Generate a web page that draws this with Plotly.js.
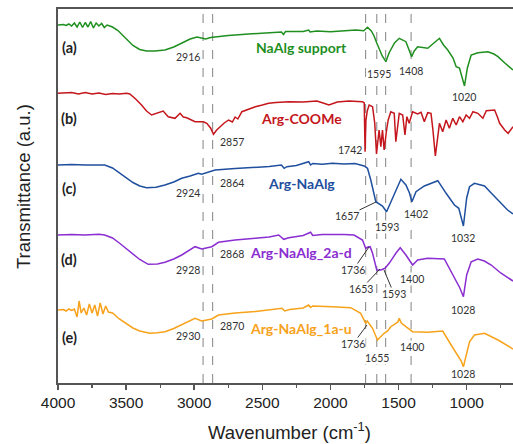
<!DOCTYPE html>
<html>
<head>
<meta charset="utf-8">
<script src="https://cdn.plot.ly/plotly-3.0.1.min.js"></script>
<style>html,body{margin:0;padding:0;background:#fff;}#chart{width:513px;height:444px;}</style>
</head>
<body>
<div id="chart"></div>
<script>
// ---- data (wavenumber in cm-1, transmittance in arbitrary offset units) ----
const wnA = [4000,3960,3940,3920,3900,3880,3860,3840,3820,3800,3780,3760,3740,3720,3700,3680,3660,3640,3620,3600,3560,3530,3500,3450,3400,3350,3290,3215,3150,3080,3030,2980,2945,2916,2880,2847,2750,2600,2450,2360,2345,2330,2200,2160,2150,2100,2000,1900,1814,1755,1728,1700,1680,1660,1620,1593,1570,1530,1495,1446,1420,1404,1385,1360,1286,1240,1200,1170,1139,1100,1077,1053,1035,1016,995,967,918,880,844,800,770,720,660];
const tA = [358,358.5,357.5,359,357,360,356,361,355.5,360.5,356,361.5,355,360,357,359.5,355.5,358,357,356,352.5,348.5,344,337.5,333.5,332,332,333,336,341,344,346,345,344,345.5,346,347.5,349,350,351,348.5,351.5,351.5,353,351,352,351.3,352,353,352.3,355.7,352,347,340,327,321.3,330,340,344.7,341.3,333,326.3,332,336.3,334.7,340,344.7,338,333,325,316.3,315,305,297,315,328,330.3,331,331.3,329,326.3,320,313];

const wnB = [4000,3900,3850,3800,3750,3700,3650,3600,3550,3497,3473,3430,3387,3350,3313,3270,3228,3191,3141,3104,3080,3055,3020,2994,2933,2908,2880,2859,2835,2810,2780,2748,2720,2700,2680,2650,2600,2552,2500,2454,2400,2306,2200,2100,2060,2011,1950,1864,1800,1765,1752,1746,1740,1730,1716,1691,1675,1662,1643,1630,1618,1606,1588,1576,1557,1532,1520,1495,1470,1453,1439,1422,1397,1360,1335,1311,1286,1262,1249,1230,1212,1200,1176,1151,1127,1102,1077,1053,1028,1004,979,954,918,881,856,795,775,758,721,696,660];
const tB = [289.7,290.5,289,290.5,289,290,288.5,289.5,289,289.7,289,284,278,272,268,270,272,266.3,264.7,269.7,266,265.3,263,261.3,261.3,259.7,255,248.7,253,256.3,260,263,261,266,264,271.3,274,276.3,278,279.7,280.5,281.3,281,282,280.3,278,281,282,281.5,281.3,280,231.3,262,272,278,276.3,260,229,253,236.3,253,233,253,263,271.3,269.7,241.3,269.7,268,248,266.3,259.7,271.3,269,270.7,261.3,270.3,269.7,254.7,227,246.3,259.7,251.3,263,254.7,264.7,258,266.3,261.3,268,264.7,271.3,269.7,264.7,272.3,273,266.3,259.7,253,249.7,256.3];

const wnC = [4000,3900,3800,3700,3657,3600,3550,3500,3450,3400,3350,3280,3215,3150,3092,3030,2970,2945,2900,2847,2700,2552,2450,2360,2340,2320,2250,2160,2146,2130,2060,1986,1900,1820,1753,1728,1704,1667,1643,1618,1588,1560,1532,1483,1446,1420,1402,1372,1311,1212,1151,1090,1058,1040,1024,1000,979,943,900,869,820,770,700,660];
const tC = [218,218.5,218,218.5,218,215,210,205,200.5,197,195.3,195.8,198,201,204.7,207,209.7,208.7,211,213,214.5,215.3,216.5,218,214.7,216.3,217.5,221.3,218,219.5,218.7,219.7,219,219.5,217,214.7,203,181.3,179,177,171.3,180,189.7,203.7,198,190,181.3,191.3,197,202.3,189.7,178,174.7,165,157,185,196.3,199.7,198,197,190,183,173,169];

const wnD = [4000,3900,3800,3700,3657,3600,3550,3500,3450,3400,3338,3270,3215,3150,3092,2994,2945,2871,2822,2700,2552,2450,2380,2343,2306,2200,2146,2130,2060,1986,1900,1827,1765,1741,1725,1709,1691,1660,1630,1600,1569,1520,1488,1446,1420,1397,1360,1286,1164,1127,1077,1050,1024,1000,967,918,870,820,750,660];
const tD = [148,148.5,148,148.8,148,145,140,134.5,129,123.5,118.7,119,120.7,124,128,136.3,134,136.3,140.7,143,144.7,146,148,143.7,145.3,147.5,150.7,147.5,148.5,148.7,148.5,148,143,134.7,136,136.3,129.7,113,113,114.7,119.7,129.7,135.3,128,122,118,123,124.7,124,114.7,103,95,86.3,108,121.3,124,122,118,110,102];

const wnE = [4000,3960,3940,3920,3900,3880,3860,3845,3830,3810,3790,3770,3750,3730,3710,3690,3670,3650,3630,3600,3550,3500,3450,3400,3326,3270,3215,3150,3092,2994,2945,2871,2822,2700,2550,2454,2355,2336,2300,2200,2160,2146,2130,1986,1851,1778,1741,1730,1716,1691,1655,1630,1606,1580,1557,1520,1505,1495,1480,1446,1420,1397,1286,1176,1114,1065,1040,1024,1000,979,943,869,770,660];
const tE = [73,73.5,72,74,72.5,74,66,82,70,75,68,79,70,78,67,80,69,77,71,70,64,59.5,55,52,49.7,50.2,51.3,54.5,58,64.7,62,64,68,70,71.5,73,74.7,72,73.5,75,78,75.5,77,76.3,75.3,69.7,59.7,62,59.7,54.7,43,47,49.7,52,56.3,59.7,61,64.7,60,56.3,54,51.3,50.7,52,38,28,22,16.3,30,41.3,48,49.7,43,34];

const seriesNames = ["NaAlg support","Arg-COOMe","Arg-NaAlg","Arg-NaAlg_2a-d","Arg-NaAlg_1a-u"];
const seriesTags = ["(a)","(b)","(c)","(d)","(e)"];
const seriesColors = ["#1f8f1f","#c4161c","#1f4f9e","#8a2ed1","#f7a21b"];
const dashX = [2935, 2865, 1742, 1660, 1595, 1408];
const xTicks = [4000,3500,3000,2500,2000,1500,1000];

// ---- layout geometry (pixels) ----
const G = {l:58, t:9, w:455, h:374};
function P(px, py){ return {x:(px-G.l)/G.w, y:(G.t+G.h-py)/G.h}; }
function txt(text, px, py, color, size, family, bg){
  const p = P(px,py);
  return {xref:'paper', yref:'paper', x:p.x, y:p.y, text:text, showarrow:false,
    xanchor:'center', yanchor:'middle', bgcolor: bg||'rgba(0,0,0,0)', borderpad:0,
    font:{color:color, size:size, family:family}};
}
function lead(text, tx, ty, hx, hy){
  const p = P(hx,hy);
  return {xref:'paper', yref:'paper', x:p.x, y:p.y, text:text, showarrow:true,
    ax:tx-hx, ay:ty-hy, axref:'pixel', ayref:'pixel', arrowhead:0, arrowwidth:1,
    arrowcolor:'#333', standoff:0, startstandoff:0,
    bgcolor:'#fff', borderpad:0, font:{color:'#333', size:10.5, family:'Lato, sans-serif'}};
}

const xs = [wnA,wnB,wnC,wnD,wnE];
const ys = [tA,tB,tC,tD,tE];
const traces = xs.map((x,i)=>({
  x:x, y:ys[i], type:'scatter', mode:'lines', name:seriesNames[i],
  line:{color:seriesColors[i], width:1.5, shape:'linear'},
  hoverinfo:'skip', showlegend:false
}));

const shapes = dashX.map(v=>({type:'line', xref:'x', yref:'paper', x0:v, x1:v, y0:0, y1:0.995,
  line:{color:'#8f8f8f', width:1.1, dash:'dash'}, layer:'below'}));

const SER = 'Lato, sans-serif';
const NUM = '#333';
const annotations = [
  // tags
  txt('<b>'+seriesTags[0]+'</b>', 69, 48, '#222', 14.5, SER),
  txt('<b>'+seriesTags[1]+'</b>', 69, 118, '#222', 14.5, SER),
  txt('<b>'+seriesTags[2]+'</b>', 69, 188, '#222', 14.5, SER),
  txt('<b>'+seriesTags[3]+'</b>', 69, 259, '#222', 14.5, SER),
  txt('<b>'+seriesTags[4]+'</b>', 69, 337, '#222', 14.5, SER),
  // series names
  txt('<b>'+seriesNames[0]+'</b>', 301, 48, seriesColors[0], 14, SER),
  txt('<b>'+seriesNames[1]+'</b>', 301, 118, seriesColors[1], 14, SER),
  txt('<b>'+seriesNames[2]+'</b>', 301, 183, seriesColors[2], 14, SER),
  txt('<b>'+seriesNames[3]+'</b>', 301, 253, seriesColors[3], 14, SER),
  txt('<b>'+seriesNames[4]+'</b>', 301, 328, seriesColors[4], 14, SER),
  // peak labels
  txt('2916', 188, 57, NUM, 10.5, SER),
  txt('2857', 232, 142, NUM, 10.5, SER),
  txt('2924', 188, 193, NUM, 10.5, SER),
  txt('2864', 232, 183, NUM, 10.5, SER),
  txt('2928', 188, 270, NUM, 10.5, SER),
  txt('2868', 232, 254, NUM, 10.5, SER),
  txt('2930', 188, 336, NUM, 10.5, SER),
  txt('2870', 232, 326, NUM, 10.5, SER),
  txt('1595', 379, 74, NUM, 10.5, SER, '#fff'),
  txt('1408', 411, 71, NUM, 10.5, SER, '#fff'),
  txt('1020', 464, 97, NUM, 10.5, SER),
  txt('1742', 350, 150, NUM, 10.5, SER),
  txt('1593', 387, 227, NUM, 10.5, SER, '#fff'),
  txt('1402', 416, 214, NUM, 10.5, SER, '#fff'),
  txt('1032', 463, 238, NUM, 10.5, SER),
  txt('1400', 412, 279, NUM, 10.5, SER, '#fff'),
  txt('1028', 463, 310, NUM, 10.5, SER),
  txt('1655', 377, 358, NUM, 10.5, SER, '#fff'),
  txt('1400', 412, 347, NUM, 10.5, SER, '#fff'),
  txt('1028', 463, 374, NUM, 10.5, SER),
  lead('1657', 347, 216, 376, 202),
  lead('1736', 353, 270, 369, 247),
  lead('1653', 361, 289, 380, 269),
  lead('1593', 394, 294, 384, 270),
  lead('1736', 353, 344, 367, 325),
  // axis titles
  txt('Wavenumber (cm<sup>-1</sup>)', 289, 431, '#222', 18.5, 'Liberation Sans, Arial, sans-serif'),
  Object.assign(txt('Transmittance (a.u.)', 23, 187, '#222', 18.5, 'Liberation Sans, Arial, sans-serif'), {textangle:-90})
];

const layout = {
  width:513, height:444,
  margin:{l:G.l, r:513-G.l-G.w, t:G.t, b:444-G.t-G.h, pad:0},
  paper_bgcolor:'#fff', plot_bgcolor:'#fff',
  showlegend:false,
  xaxis:{range:[4000,660], tickvals:xTicks, ticktext:xTicks.map(String),
    ticks:'outside', ticklen:5, tickwidth:1.5, tickcolor:'#555',
    minor:{dtick:250, tick0:0, ticks:'outside', ticklen:3, tickwidth:1.2, tickcolor:'#555', showgrid:false},
    showline:true, linecolor:'#555', linewidth:1.8, mirror:true,
    showgrid:false, zeroline:false,
    tickfont:{family:'Liberation Sans, Arial, sans-serif', size:15.5, color:'#222'}},
  yaxis:{range:[0,374], showline:true, linecolor:'#555', linewidth:1.8,
    showticklabels:false, ticks:'', showgrid:false, zeroline:false},
  shapes:shapes,
  annotations:annotations
};

Plotly.newPlot('chart', traces, layout, {staticPlot:true, displayModeBar:false});
</script>
</body>
</html>
